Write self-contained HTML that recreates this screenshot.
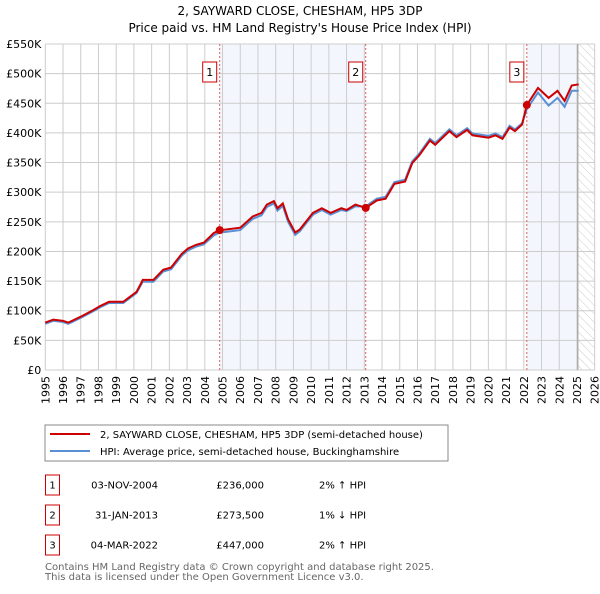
<!DOCTYPE html>
<html><head><meta charset="utf-8">
<style>
body{margin:0;background:#fff;font-family:"DejaVu Sans","Liberation Sans",sans-serif;}
svg text{font-family:"DejaVu Sans","Liberation Sans",sans-serif;}
</style></head>
<body>
<svg id="c" width="600" height="590" xmlns="http://www.w3.org/2000/svg">
<defs>
<pattern id="hatch" width="6" height="6" patternUnits="userSpaceOnUse" patternTransform="rotate(-45)">
<line x1="0" y1="0" x2="0" y2="6" stroke="#ccc" stroke-width="1"/>
</pattern>
</defs>
<text x="300" y="15" text-anchor="middle" font-size="12" fill="#000">2, SAYWARD CLOSE, CHESHAM, HP5 3DP</text>
<text x="300" y="32" text-anchor="middle" font-size="12" fill="#000">Price paid vs. HM Land Registry's House Price Index (HPI)</text>
<g id="plot"></g>
<g>
<rect x="45" y="425" width="403" height="36" fill="#fff" stroke="#888" stroke-width="1"/>
<line x1="50" y1="434" x2="90" y2="434" stroke="#cc0000" stroke-width="2"/>
<text x="100" y="438" font-size="10">2, SAYWARD CLOSE, CHESHAM, HP5 3DP (semi-detached house)</text>
<line x1="50" y1="451" x2="90" y2="451" stroke="#5b8fd4" stroke-width="2"/>
<text x="100" y="455" font-size="10">HPI: Average price, semi-detached house, Buckinghamshire</text>
</g>
<g id="table" font-size="10"></g>
<text x="45" y="570" font-size="10" fill="#666">Contains HM Land Registry data © Crown copyright and database right 2025.</text>
<text x="45" y="580" font-size="10" fill="#666">This data is licensed under the Open Government Licence v3.0.</text>
</svg>
<script>
const yearTicks=[1995,1996,1997,1998,1999,2000,2001,2002,2003,2004,2005,2006,2007,2008,2009,2010,2011,2012,2013,2014,2015,2016,2017,2018,2019,2020,2021,2022,2023,2024,2025,2026];
const valueTicks=[0,50,100,150,200,250,300,350,400,450,500,550];
const valueTickLabels=["£0","£50K","£100K","£150K","£200K","£250K","£300K","£350K","£400K","£450K","£500K","£550K"];
const redYears=[1995.0,1995.45,1996.0,1996.3,1997.0,1997.7,1998.1,1998.6,1999.4,2000.15,2000.5,2001.1,2001.65,2002.1,2002.7,2003.05,2003.5,2003.95,2004.5,2004.84,2005.2,2006.0,2006.7,2007.2,2007.5,2007.9,2008.1,2008.4,2008.7,2009.1,2009.36,2010.1,2010.6,2011.1,2011.7,2012.0,2012.5,2013.08,2013.7,2014.2,2014.7,2015.3,2015.7,2016.1,2016.7,2017.0,2017.8,2018.2,2018.8,2019.1,2020.0,2020.4,2020.8,2021.2,2021.5,2021.9,2022.17,2022.8,2023.4,2023.9,2024.3,2024.7,2025.1];
const redValues=[80,85,83,80,90,101,108,115,115,132,152,152,169,173,196,205,211,215,231,236,237,240,259,265,279,285,273,281,254,232,237,265,273,265,273,270,279,273.5,286,289,314,318,349,362,387,380,403,393,405,396,392,396,390,409,403,414,447,476,459,471,454,480,482];
const blueValues=[78,83,81,78,88,99,106,113,113,130,149,149,166,170,193,202,208,212,227,232,233,236,255,261,275,281,269,277,250,228,234,262,270,262,270,268,276,276,289,292,317,321,352,365,390,383,406,396,408,399,395,399,393,412,406,416,440,468,446,459,444,471,471];
const sales=[{n:"1",year:2004.84,value:236,date:"03-NOV-2004",price:"£236,000",rel:"2% ↑ HPI"},{n:"2",year:2013.08,value:273.5,date:"31-JAN-2013",price:"£273,500",rel:"1% ↓ HPI"},{n:"3",year:2022.17,value:447,date:"04-MAR-2022",price:"£447,000",rel:"2% ↑ HPI"}];
const dataEndYear=2025.05;

const X0=45.3,X1=594.7,Y0=370,Y1=44;
const x=y=>X0+(y-1995)/(2026-1995)*(X1-X0);
const yv=v=>Y0-v/550*(Y0-Y1);
const NS="http://www.w3.org/2000/svg";
const plot=document.getElementById('plot');
function mk(tag,attrs,parent){const e=document.createElementNS(NS,tag);for(const k in attrs)e.setAttribute(k,attrs[k]);(parent||plot).appendChild(e);return e;}
// shaded regions
let r=mk('rect',{x:x(sales[0].year),y:Y1,width:x(sales[1].year)-x(sales[0].year),height:Y0-Y1,fill:'#eef3fc',opacity:0.7});


r=mk('rect',{x:x(sales[2].year),y:Y1,width:x(dataEndYear)-x(sales[2].year),height:Y0-Y1,fill:'#eef3fc',opacity:0.7});


r=mk('rect',{x:x(dataEndYear),y:Y1,width:X1-x(dataEndYear),height:Y0-Y1,fill:'url(#hatch)'});


// grid
yearTicks.forEach(t=>{const l=mk('line',{x1:x(t),x2:x(t),y1:Y1,y2:Y0,stroke:'#ccc','stroke-width':1});


const tx=mk('text',{x:0,y:0,'font-size':11,'text-anchor':'end',transform:`translate(${x(t)+4},${Y0+6}) rotate(-90)`});tx.textContent=t;

});
valueTicks.forEach((v,i)=>{const l=mk('line',{x1:X0,x2:X1,y1:yv(v),y2:yv(v),stroke:'#ccc','stroke-width':1});


const tx=mk('text',{x:X0-4,y:yv(v)+4,'font-size':11,'text-anchor':'end'});tx.textContent=valueTickLabels[i];

});
let ln=mk('line',{x1:x(dataEndYear),x2:x(dataEndYear),y1:Y1,y2:Y0,stroke:'#999','stroke-width':1});


// sale vlines
sales.forEach((s,i)=>{const l=mk('line',{x1:x(s.year),x2:x(s.year),y1:Y1,y2:Y0,stroke:'#e06060','stroke-width':1,'stroke-dasharray':'2,2'});


const g=mk('g',{});


mk('rect',{x:x(s.year)-17,y:62,width:14,height:20,fill:'#fff',stroke:'#cc0000','stroke-width':1},g);
const t=mk('text',{x:x(s.year)-10,y:76,'font-size':11,'text-anchor':'middle'},g);t.textContent=s.n;});
// series
const path=(vals)=>vals.map((v,i)=>(i?'L':'M')+x(redYears[i]).toFixed(1)+','+yv(v).toFixed(1)).join('');
let p=mk('path',{d:path(blueValues),fill:'none',stroke:'#5b8fd4','stroke-width':2});


p=mk('path',{d:path(redValues),fill:'none',stroke:'#cc0000','stroke-width':2});


sales.forEach(s=>{const c=mk('circle',{cx:x(s.year),cy:yv(s.value),r:4,fill:'#cc0000'});

});
// table
const tb=document.getElementById('table');
sales.forEach((s,i)=>{const yy=485+i*30;
const g=mk('g',{},tb);


mk('rect',{x:45.5,y:yy-10,width:14,height:20,fill:'#fff',stroke:'#cc0000','stroke-width':1},g);
const a=mk('text',{x:52.5,y:yy+3.5,'text-anchor':'middle'},g);a.textContent=s.n;
const b=mk('text',{x:158,y:yy+3.5,'text-anchor':'end'},g);b.textContent=s.date;
const c=mk('text',{x:264,y:yy+3.5,'text-anchor':'end'},g);c.textContent=s.price;
const d=mk('text',{x:319,y:yy+3.5},g);d.textContent=s.rel;});
</script>
</body></html>
